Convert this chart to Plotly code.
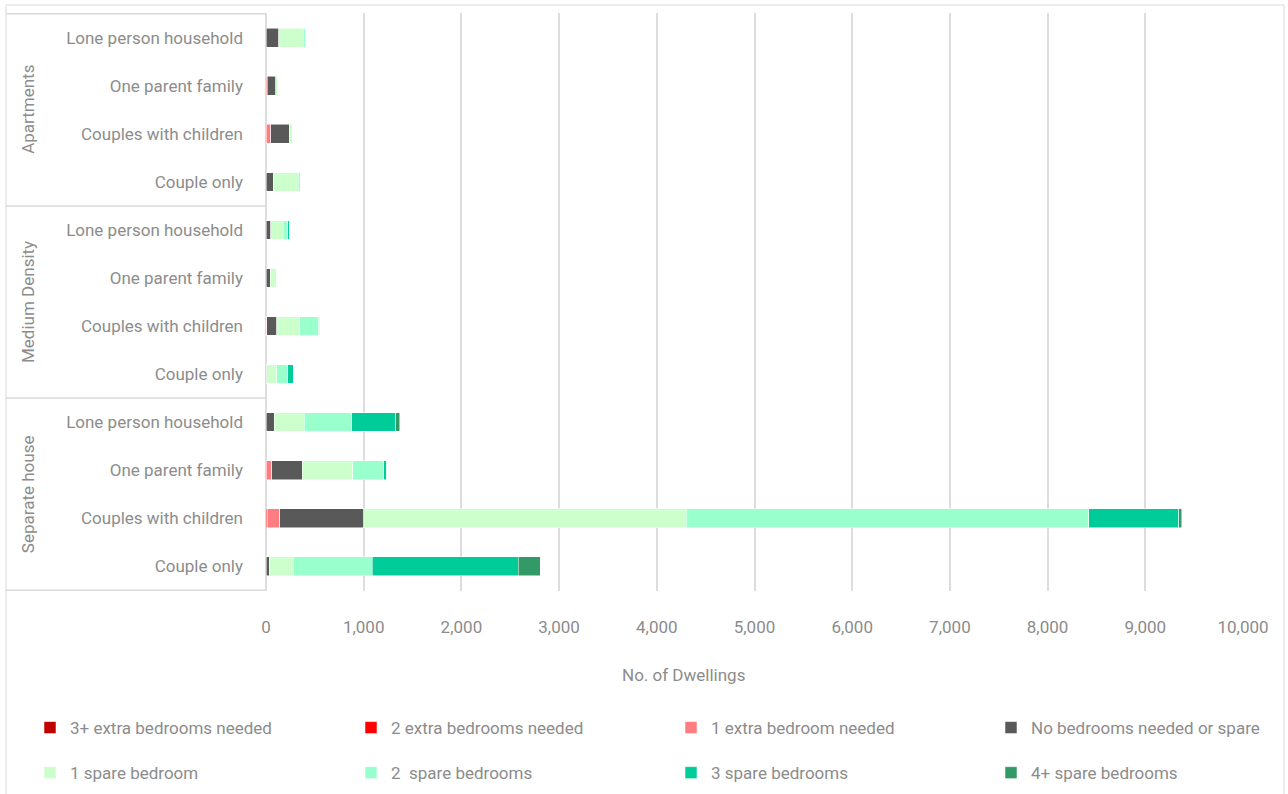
import plotly.graph_objects as go

# Dwelling type groups (bottom to top) and household types within each group
groups = ["Separate house", "Medium Density", "Apartments"]
households = ["Couple only", "Couples with children", "One parent family", "Lone person household"]

series_names = [
    "3+ extra bedrooms needed",
    "2 extra bedrooms needed",
    "1 extra bedroom needed",
    "No bedrooms needed or spare",
    "1 spare bedroom",
    "2  spare bedrooms",
    "3 spare bedrooms",
    "4+ spare bedrooms",
]
series_colors = ["#C00000", "#FF0000", "#FF7C80", "#595959",
                 "#CCFFCC", "#99FFCC", "#00CC99", "#339966"]

# Number of dwellings per series, rows ordered: Separate house (4), Medium Density (4), Apartments (4)
extra_3plus = [0, 0, 0, 0,   0, 0, 0, 0,   0, 0, 0, 0]
extra_2 =     [0, 14, 0, 0,  0, 0, 0, 0,   0, 0, 0, 0]
extra_1 =     [0, 126, 61, 0, 0, 8, 0, 0,  0, 50, 14, 0]
no_spare =    [34, 863, 310, 85,  10, 102, 41, 48,  72, 188, 85, 130]
spare_1 =     [246, 3299, 515, 307,  99, 235, 68, 130,  256, 30, 17, 250]
spare_2 =     [809, 4118, 317, 488,  116, 195, 0, 44,  24, 0, 0, 20]
spare_3 =     [1491, 921, 31, 447,  55, 10, 0, 20,  0, 0, 0, 0]
spare_4plus = [229, 34, 0, 41,  0, 0, 0, 0,  0, 0, 0, 0]

series_values = [extra_3plus, extra_2, extra_1, no_spare, spare_1, spare_2, spare_3, spare_4plus]

x_ticks = list(range(0, 10001, 1000))
x_tick_labels = [f"{v:,}" for v in x_ticks]

# Unique category keys for the y axis, displayed with household names only
row_keys = [f"{g}|{h}" for g in groups for h in households]
row_labels = [h for g in groups for h in households]

FONT = "Roboto, sans-serif"
FSIZE = 17
TEXT_COLOR = "#8C8C8C"
GRID = "#DDDDDD"

W, H = 1288, 794
ML, MR, MT, MB = 266, 45, 13, 203
PW, PH = W - ML - MR, H - MT - MB


def px_x(p):
    return (p - ML) / PW


def px_y(p):
    return (H - MB - p) / PH


fig = go.Figure()

legend_ids = ["legend", "legend2", "legend3", "legend4"]
for i, (name, vals, col) in enumerate(zip(series_names, series_values, series_colors)):
    fig.add_trace(go.Bar(
        name=name,
        y=row_keys,
        x=vals,
        orientation="h",
        marker=dict(color=col, line=dict(color="rgba(255,255,255,0.7)", width=0.75)),
        legend=legend_ids[i % 4],
        legendgroup=name,
        hovertemplate="%{x:,}<extra>" + name + "</extra>",
    ))

layout_legends = {}
legend_left_px = [30, 351, 671, 991]
for k, lid in enumerate(legend_ids):
    layout_legends[lid] = dict(
        x=px_x(legend_left_px[k]), y=px_y(710), xref="paper", yref="paper",
        xanchor="left", yanchor="top", orientation="v",
        font=dict(family=FONT, size=FSIZE, color=TEXT_COLOR),
        bgcolor="rgba(0,0,0,0)", tracegroupgap=20, itemwidth=30,
        traceorder="grouped",
    )

fig.update_layout(
    width=W, height=H,
    margin=dict(l=ML, r=MR, t=MT, b=MB, autoexpand=False),
    barmode="stack",
    bargap=0.61,
    plot_bgcolor="white",
    paper_bgcolor="white",
    font=dict(family=FONT, size=FSIZE, color=TEXT_COLOR),
    showlegend=True,
    **layout_legends,
)

fig.update_xaxes(
    range=[0, 10000],
    tickvals=x_ticks,
    ticktext=x_tick_labels,
    showgrid=True, gridcolor=GRID, gridwidth=1.5,
    zeroline=True, zerolinecolor=GRID, zerolinewidth=1.5,
    showline=False,
    ticks="", ticklabelstandoff=24,
    tickfont=dict(family=FONT, size=FSIZE, color=TEXT_COLOR),
    fixedrange=True,
)

fig.update_yaxes(
    type="category",
    categoryorder="array",
    categoryarray=row_keys,
    tickvals=row_keys,
    ticktext=row_labels,
    showgrid=False,
    ticks="", ticklabelstandoff=22,
    tickfont=dict(family=FONT, size=FSIZE, color=TEXT_COLOR),
    fixedrange=True,
)

shapes = []
# Outer chart border
shapes.append(dict(type="rect", xref="paper", yref="paper",
                   x0=px_x(6), x1=px_x(1284), y0=px_y(800), y1=px_y(5),
                   line=dict(color="#D9D9D9", width=1), fillcolor="rgba(0,0,0,0)", layer="below"))
# Group boxes for the multi-level category axis
for b in [-0.5, 3.5, 7.5, 11.5]:
    shapes.append(dict(type="line", xref="paper", yref="y",
                       x0=px_x(6), x1=0, y0=b, y1=b,
                       line=dict(color="#D9D9D9", width=1.5)))
fig.update_layout(shapes=shapes)

annotations = []
for gi, g in enumerate(groups):
    annotations.append(dict(
        text=g, xref="paper", yref="y", x=px_x(28), y=gi * 4 + 1.5,
        showarrow=False, textangle=-90, xanchor="center", yanchor="middle",
        font=dict(family=FONT, size=FSIZE, color=TEXT_COLOR),
    ))
annotations.append(dict(
    text="No. of Dwellings", xref="paper", yref="paper",
    x=px_x(683), y=px_y(675), showarrow=False, xanchor="center", yanchor="middle",
    font=dict(family=FONT, size=FSIZE, color=TEXT_COLOR),
))
fig.update_layout(annotations=annotations)

fig.write_html("out.html")
